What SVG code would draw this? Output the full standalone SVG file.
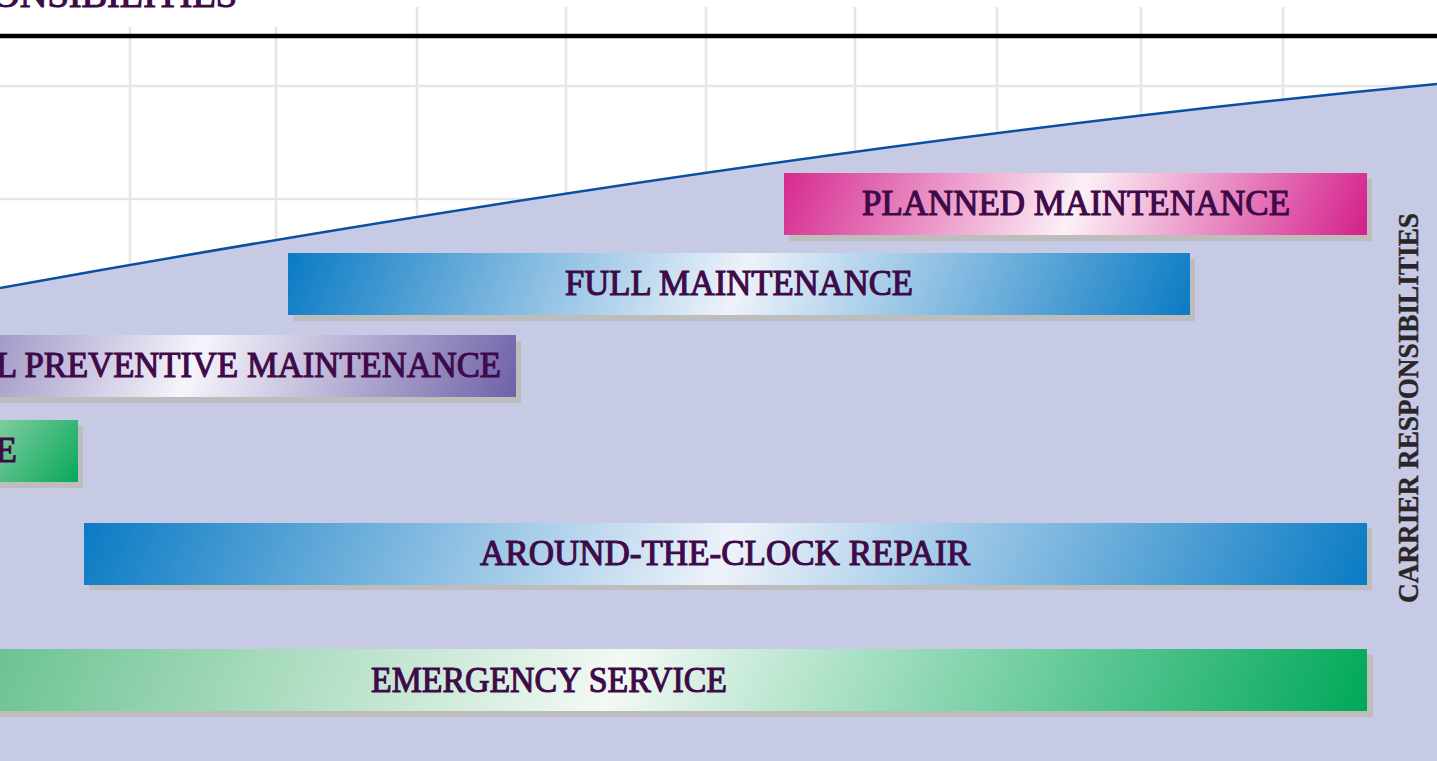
<svg xmlns="http://www.w3.org/2000/svg" width="1437" height="761" viewBox="0 0 1437 761">
  <style>
    .grid { stroke: #e6e6e6; stroke-width: 2.5; fill: none; }
    .shadow { fill: #bdbdbd; }
    .lbl { font-family: "Liberation Serif", "Times New Roman", serif; font-size: 35px; fill: #3e0a48; stroke: #3e0a48; stroke-width: 1.1; }
    .vlbl { font-family: "Liberation Serif", "Times New Roman", serif; font-size: 30px; font-weight: bold; fill: #2a2627; stroke: #2a2627; stroke-width: 0.4; }
  </style>
  <defs>
    <linearGradient id="gPink" gradientUnits="userSpaceOnUse" x1="784" y1="173" x2="1308" y2="382.6">
      <stop offset="0" stop-color="#d62a90"/>
      <stop offset="0.5" stop-color="#fcf0f6"/>
      <stop offset="1" stop-color="#d41f8b"/>
    </linearGradient>
    <linearGradient id="gBlueFull" gradientUnits="userSpaceOnUse" x1="288" y1="253" x2="1087" y2="572.6">
      <stop offset="0" stop-color="#0a7bc4"/>
      <stop offset="0.5" stop-color="#eef2fa"/>
      <stop offset="1" stop-color="#0a7bc4"/>
    </linearGradient>
    <linearGradient id="gPurple" gradientUnits="userSpaceOnUse" x1="-130" y1="335" x2="448" y2="566">
      <stop offset="0" stop-color="#6f61a8"/>
      <stop offset="0.5" stop-color="#f6f4fb"/>
      <stop offset="1" stop-color="#6f61a8"/>
    </linearGradient>
    <linearGradient id="gGreenSmall" gradientUnits="userSpaceOnUse" x1="0" y1="420" x2="78" y2="482">
      <stop offset="0" stop-color="#80cc9f"/>
      <stop offset="1" stop-color="#06a85a"/>
    </linearGradient>
    <linearGradient id="gBlueAround" gradientUnits="userSpaceOnUse" x1="84" y1="523" x2="1211" y2="974">
      <stop offset="0" stop-color="#0a7bc4"/>
      <stop offset="0.5" stop-color="#eef2fa"/>
      <stop offset="1" stop-color="#0a7bc4"/>
    </linearGradient>
    <linearGradient id="gGreen" gradientUnits="userSpaceOnUse" x1="0" y1="649" x2="1200" y2="1129">
      <stop offset="0" stop-color="#6cc392"/>
      <stop offset="0.45" stop-color="#f3f9f4"/>
      <stop offset="1" stop-color="#00a859"/>
    </linearGradient>
  </defs>

  <rect x="0" y="0" width="1437" height="761" fill="#ffffff"/>

  <g id="grid">
    <line class="grid" x1="130" y1="27" x2="130" y2="300"/>
    <line class="grid" x1="276" y1="27" x2="276" y2="300"/>
    <line class="grid" x1="417" y1="7" x2="417" y2="300"/>
    <line class="grid" x1="566" y1="7" x2="566" y2="300"/>
    <line class="grid" x1="706" y1="7" x2="706" y2="300"/>
    <line class="grid" x1="855" y1="7" x2="855" y2="300"/>
    <line class="grid" x1="997" y1="7" x2="997" y2="300"/>
    <line class="grid" x1="1141" y1="7" x2="1141" y2="300"/>
    <line class="grid" x1="1283" y1="7" x2="1283" y2="300"/>
    <line class="grid" x1="0" y1="86" x2="1437" y2="86"/>
    <line class="grid" x1="0" y1="199" x2="1437" y2="199"/>
  </g>

  <g id="carrier-area">
    <path d="M0,288 Q794,145 1437,84 L1437,761 L0,761 Z" fill="#c6cae5"/>
    <path d="M0,288 Q794,145 1437,84" fill="none" stroke="#0a4fa0" stroke-width="2.5"/>
  </g>

  <g id="header">
    <line x1="0" y1="36" x2="1437" y2="36" stroke="#000000" stroke-width="4.5"/>
    <text class="lbl" x="-8" y="7" font-size="38" textLength="245" lengthAdjust="spacingAndGlyphs">ONSIBILITIES</text>
  </g>

  <g id="planned-maintenance">
    <rect class="shadow" x="789" y="179" width="583" height="62"/>
    <rect x="784" y="173" width="583" height="62" fill="url(#gPink)"/>
    <text class="lbl" x="862" y="215" textLength="428" lengthAdjust="spacingAndGlyphs">PLANNED MAINTENANCE</text>
  </g>

  <g id="full-maintenance">
    <rect class="shadow" x="293" y="259" width="902" height="62"/>
    <rect x="288" y="253" width="902" height="62" fill="url(#gBlueFull)"/>
    <text class="lbl" x="565" y="295" textLength="348" lengthAdjust="spacingAndGlyphs">FULL MAINTENANCE</text>
  </g>

  <g id="preventive-maintenance">
    <rect class="shadow" x="0" y="341" width="521" height="62"/>
    <rect x="0" y="335" width="516" height="62" fill="url(#gPurple)"/>
    <text class="lbl" x="501" y="377" text-anchor="end" textLength="505" lengthAdjust="spacingAndGlyphs">L PREVENTIVE MAINTENANCE</text>
  </g>

  <g id="small-green">
    <rect class="shadow" x="0" y="426" width="83" height="62"/>
    <rect x="0" y="420" width="78" height="62" fill="url(#gGreenSmall)"/>
    <text class="lbl" x="17" y="462" text-anchor="end">E</text>
  </g>

  <g id="around-the-clock">
    <rect class="shadow" x="89" y="528" width="1283" height="62"/>
    <rect x="84" y="523" width="1283" height="62" fill="url(#gBlueAround)"/>
    <text class="lbl" x="480" y="565" textLength="490" lengthAdjust="spacingAndGlyphs">AROUND-THE-CLOCK REPAIR</text>
  </g>

  <g id="emergency-service">
    <rect class="shadow" x="0" y="655" width="1373" height="62"/>
    <rect x="0" y="649" width="1367" height="62" fill="url(#gGreen)"/>
    <text class="lbl" x="371" y="692" textLength="356" lengthAdjust="spacingAndGlyphs">EMERGENCY SERVICE</text>
  </g>

  <g id="carrier-label">
    <text class="vlbl" transform="translate(1418,603) rotate(-90)" x="0" y="0" textLength="390" lengthAdjust="spacingAndGlyphs">CARRIER RESPONSIBILITIES</text>
  </g>
</svg>
